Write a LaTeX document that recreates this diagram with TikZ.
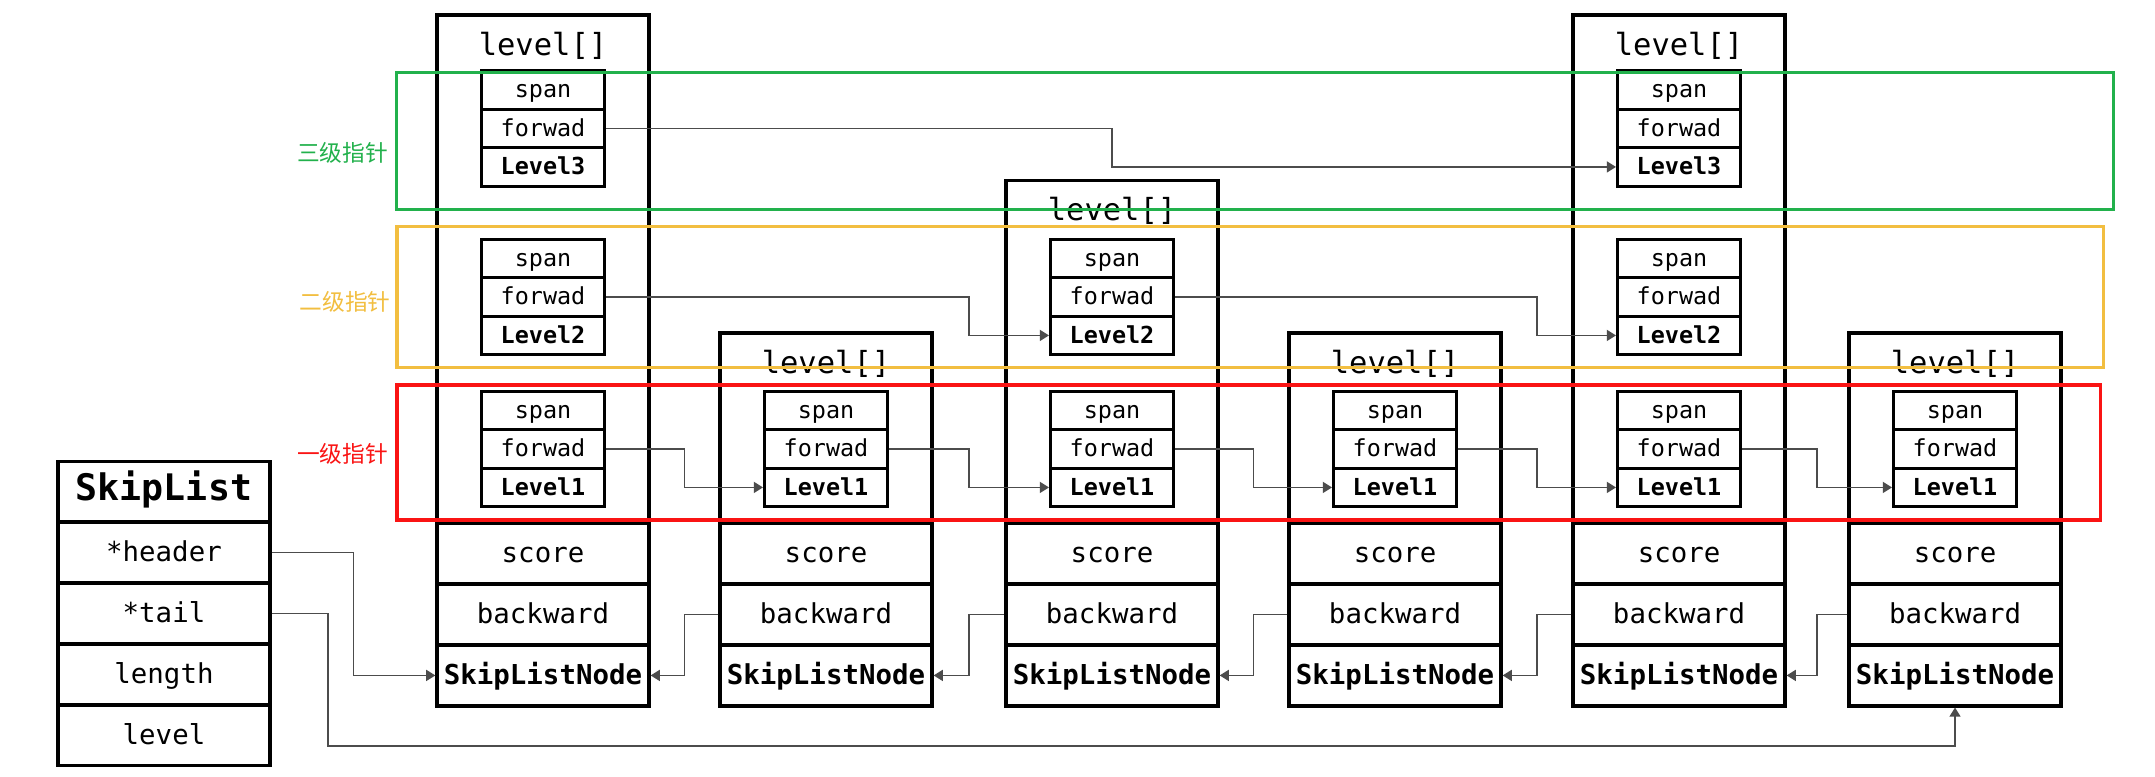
\documentclass[tikz,border=0pt]{standalone}
\usepackage{fontspec}
\setmonofont{DejaVu Sans Mono}
\newfontfamily\cjk{Noto Sans CJK SC}
\usetikzlibrary{shapes.multipart,arrows.meta,calc}
\definecolor{lvlgreen}{RGB}{34,177,76}
\definecolor{lvlyellow}{RGB}{242,190,64}
\definecolor{lvlred}{RGB}{250,20,20}
\newcommand{\rowstrut}{\rule[-8.6pt]{0pt}{24.6pt}}
\newcommand{\lvlstrut}{\rule[-4.3pt]{0pt}{15.1pt}}
\newcommand{\noderows}{\rowstrut score\nodepart{two}\rowstrut backward\nodepart{three}\rowstrut\textbf{SkipListNode}}
\newcommand{\lvlrows}[1]{\lvlstrut span\nodepart{two}\lvlstrut forwad\nodepart{three}\lvlstrut\textbf{Level#1}}
\begin{document}
\begin{tikzpicture}[x=0.015cm,y=-0.015cm,
  frame/.style={draw, line width=1.4pt, minimum width=3.18cm, inner sep=0pt},
  rows/.style={draw, line width=1.4pt, rectangle split, rectangle split parts=3,
    inner xsep=0pt, inner ysep=0pt, text width=3.18cm, align=center,
    font=\ttfamily\fontsize{11.7}{14}\selectfont},
  lvl/.style={draw, line width=1.3pt, rectangle split, rectangle split parts=3,
    inner xsep=0pt, inner ysep=0pt, text width=1.845cm, align=center,
    font=\ttfamily\fontsize{10}{12}\selectfont},
  ltitle/.style={inner sep=0pt, font=\ttfamily\fontsize{13}{15}\selectfont},
  band/.style={line width=1.3pt},
  tag/.style={inner sep=0pt, font=\cjk\fontsize{9.7}{11}\selectfont},
  link/.style={draw=black!70, line width=0.6pt, -{Triangle[length=3.9pt,width=4.7pt]}}]
\path[fill=white, use as bounding box] (0,0) rectangle (2155,776);

% skiplist header
\node[rows, rectangle split parts=5] (sl) at (164,613.5) {\rowstrut\fontsize{15.6}{18}\selectfont\bfseries SkipList\nodepart{two}\rowstrut*header\nodepart{three}\rowstrut*tail\nodepart{four}\rowstrut length\nodepart{five}\rowstrut level};

% node columns
\node[frame, minimum height=7.62cm] (c1) at (543,269) {};
\node[frame, minimum height=2.85cm] (c2) at (826,428) {};
\node[frame, minimum height=5.1375cm] (c3) at (1112,351.75) {};
\node[frame, minimum height=2.85cm] (c4) at (1395,428) {};
\node[frame, minimum height=7.62cm] (c5) at (1679,269) {};
\node[frame, minimum height=2.85cm] (c6) at (1955,428) {};

\node[ltitle] (c1t) at (543,46) {level[]};
\node[ltitle] (c2t) at (826,364) {level[]};
\node[ltitle] (c3t) at (1112,211) {level[]};
\node[ltitle] (c4t) at (1395,364) {level[]};
\node[ltitle] (c5t) at (1679,46) {level[]};
\node[ltitle] (c6t) at (1955,364) {level[]};

\node[rows] (c1n) at (543,614.5) {\noderows};
\node[rows] (c2n) at (826,614.5) {\noderows};
\node[rows] (c3n) at (1112,614.5) {\noderows};
\node[rows] (c4n) at (1395,614.5) {\noderows};
\node[rows] (c5n) at (1679,614.5) {\noderows};
\node[rows] (c6n) at (1955,614.5) {\noderows};

% levels
\node[lvl] (c1l3) at (543,128.5) {\lvlrows{3}};
\node[lvl] (c1l2) at (543,297) {\lvlrows{2}};
\node[lvl] (c1l1) at (543,449) {\lvlrows{1}};
\node[lvl] (c2l1) at (826,449) {\lvlrows{1}};
\node[lvl] (c3l2) at (1112,297) {\lvlrows{2}};
\node[lvl] (c3l1) at (1112,449) {\lvlrows{1}};
\node[lvl] (c4l1) at (1395,449) {\lvlrows{1}};
\node[lvl] (c5l3) at (1679,128.5) {\lvlrows{3}};
\node[lvl] (c5l2) at (1679,297) {\lvlrows{2}};
\node[lvl] (c5l1) at (1679,449) {\lvlrows{1}};
\node[lvl] (c6l1) at (1955,449) {\lvlrows{1}};

% gaps between columns
\coordinate (g01) at ($(sl.east)!.5!(c1.west)$);
\coordinate (g12) at ($(c1.east)!.5!(c2.west)$);
\coordinate (g23) at ($(c2.east)!.5!(c3.west)$);
\coordinate (g34) at ($(c3.east)!.5!(c4.west)$);
\coordinate (g45) at ($(c4.east)!.5!(c5.west)$);
\coordinate (g56) at ($(c5.east)!.5!(c6.west)$);
\coordinate (tl) at (328,746);

% forward pointers
\draw[link] (c1l3.two east) -- (c1l3.two east -| c3) |- (c5l3.three west);
\draw[link] (c1l2.two east) -- (c1l2.two east -| g23) |- (c3l2.three west);
\draw[link] (c3l2.two east) -- (c3l2.two east -| g45) |- (c5l2.three west);
\draw[link] (c1l1.two east) -- (c1l1.two east -| g12) |- (c2l1.three west);
\draw[link] (c2l1.two east) -- (c2l1.two east -| g23) |- (c3l1.three west);
\draw[link] (c3l1.two east) -- (c3l1.two east -| g34) |- (c4l1.three west);
\draw[link] (c4l1.two east) -- (c4l1.two east -| g45) |- (c5l1.three west);
\draw[link] (c5l1.two east) -- (c5l1.two east -| g56) |- (c6l1.three west);

% backward pointers
\draw[link] (c2n.two west) -- (c2n.two west -| g12) |- (c1n.three east);
\draw[link] (c3n.two west) -- (c3n.two west -| g23) |- (c2n.three east);
\draw[link] (c4n.two west) -- (c4n.two west -| g34) |- (c3n.three east);
\draw[link] (c5n.two west) -- (c5n.two west -| g45) |- (c4n.three east);
\draw[link] (c6n.two west) -- (c6n.two west -| g56) |- (c5n.three east);

% header and tail
\draw[link] (sl.two east) -- (sl.two east -| g01) |- (c1n.three west);
\draw[link] (sl.three east) -| (tl) -| (c6n.south);

% level bands
\draw[band, lvlgreen] (396.5,72.7) rectangle (2113,209.3);
\draw[band, lvlyellow] (397,226.7) rectangle (2103,367.7);
\draw[band, lvlred] (397,385) rectangle (2100,520);
\node[tag, text=lvlgreen] (tag3) at (342.5,153) {三级指针};
\node[tag, text=lvlyellow] (tag2) at (345,302) {二级指针};
\node[tag, text=lvlred] (tag1) at (342.5,454) {一级指针};
\end{tikzpicture}
\end{document}
